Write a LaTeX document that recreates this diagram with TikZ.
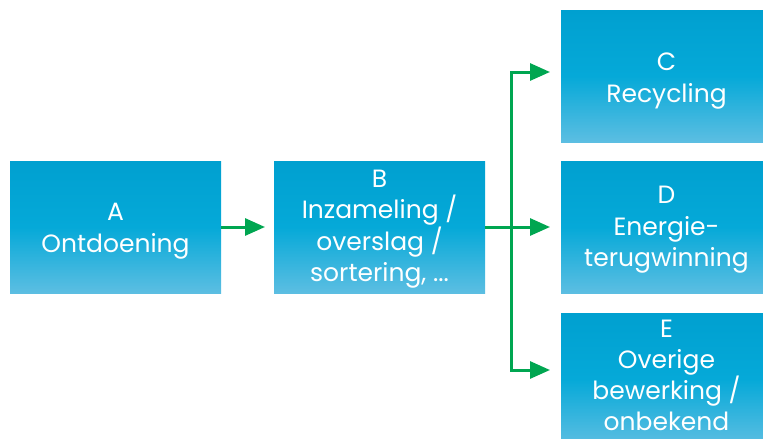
\documentclass[tikz,border=0pt]{standalone}
\usepackage{fontspec}
\setmainfont{Poppins}
\usetikzlibrary{arrows.meta}
\definecolor{boxtop}{HTML}{00A0D0}
\definecolor{boxmid}{HTML}{05A9D8}
\definecolor{boxbot}{HTML}{5CBEE2}
\definecolor{arrowgreen}{HTML}{00A651}
\tikzset{
  blok/.style={minimum width=211pt, minimum height=132pt, inner sep=0pt,
    top color=boxtop, bottom color=boxbot, middle color=boxmid},
  tekst/.style={inner sep=0pt, text=white, align=center, font=\fontsize{25}{31.5}\selectfont},
  pijl/.style={draw=arrowgreen, line width=3pt, -{Triangle[length=20pt,width=17pt]}},
  lijn/.style={draw=arrowgreen, line width=3pt}
}
\begin{document}
\begin{tikzpicture}[x=1pt,y=-1pt]
\useasboundingbox (0,0) rectangle (763,439);
\node[blok] (A) at (115.5,227) {};
\node[blok] (B) at (379.5,227) {};
\node[blok] (C) at (666.5,76) {};
\node[blok] (D) at (666.5,227) {};
\node[blok] (E) at (666.5,379) {};
\node[tekst] (At) at ([yshift=-4pt]A.center) {A\\Ontdoening};
\node[tekst] (Bt) at ([yshift=-2pt]B.center) {B\\Inzameling /\\overslag /\\sortering, ...};
\node[tekst] (Ct) at ([yshift=-5pt]C.center) {C\\Recycling};
\node[tekst] (Dt) at ([yshift=-3pt]D.center) {D\\Energie-\\terugwinning};
\node[tekst, font=\fontsize{25}{31}\selectfont] (Et) at ([yshift=4pt]E.center) {E\\Overige\\bewerking /\\onbekend};
\coordinate (j) at (511,227);
\coordinate (cin) at (550,72);
\coordinate (din) at (550,227);
\coordinate (ein) at (550,370);
\coordinate (bin) at (265,227);
\draw[pijl] (A.east) -- (bin);
\draw[lijn] (B.east) -- (j);
\draw[pijl] (j) |- (cin);
\draw[pijl] (j) -- (din);
\draw[pijl] (j) |- (ein);
\end{tikzpicture}
\end{document}
